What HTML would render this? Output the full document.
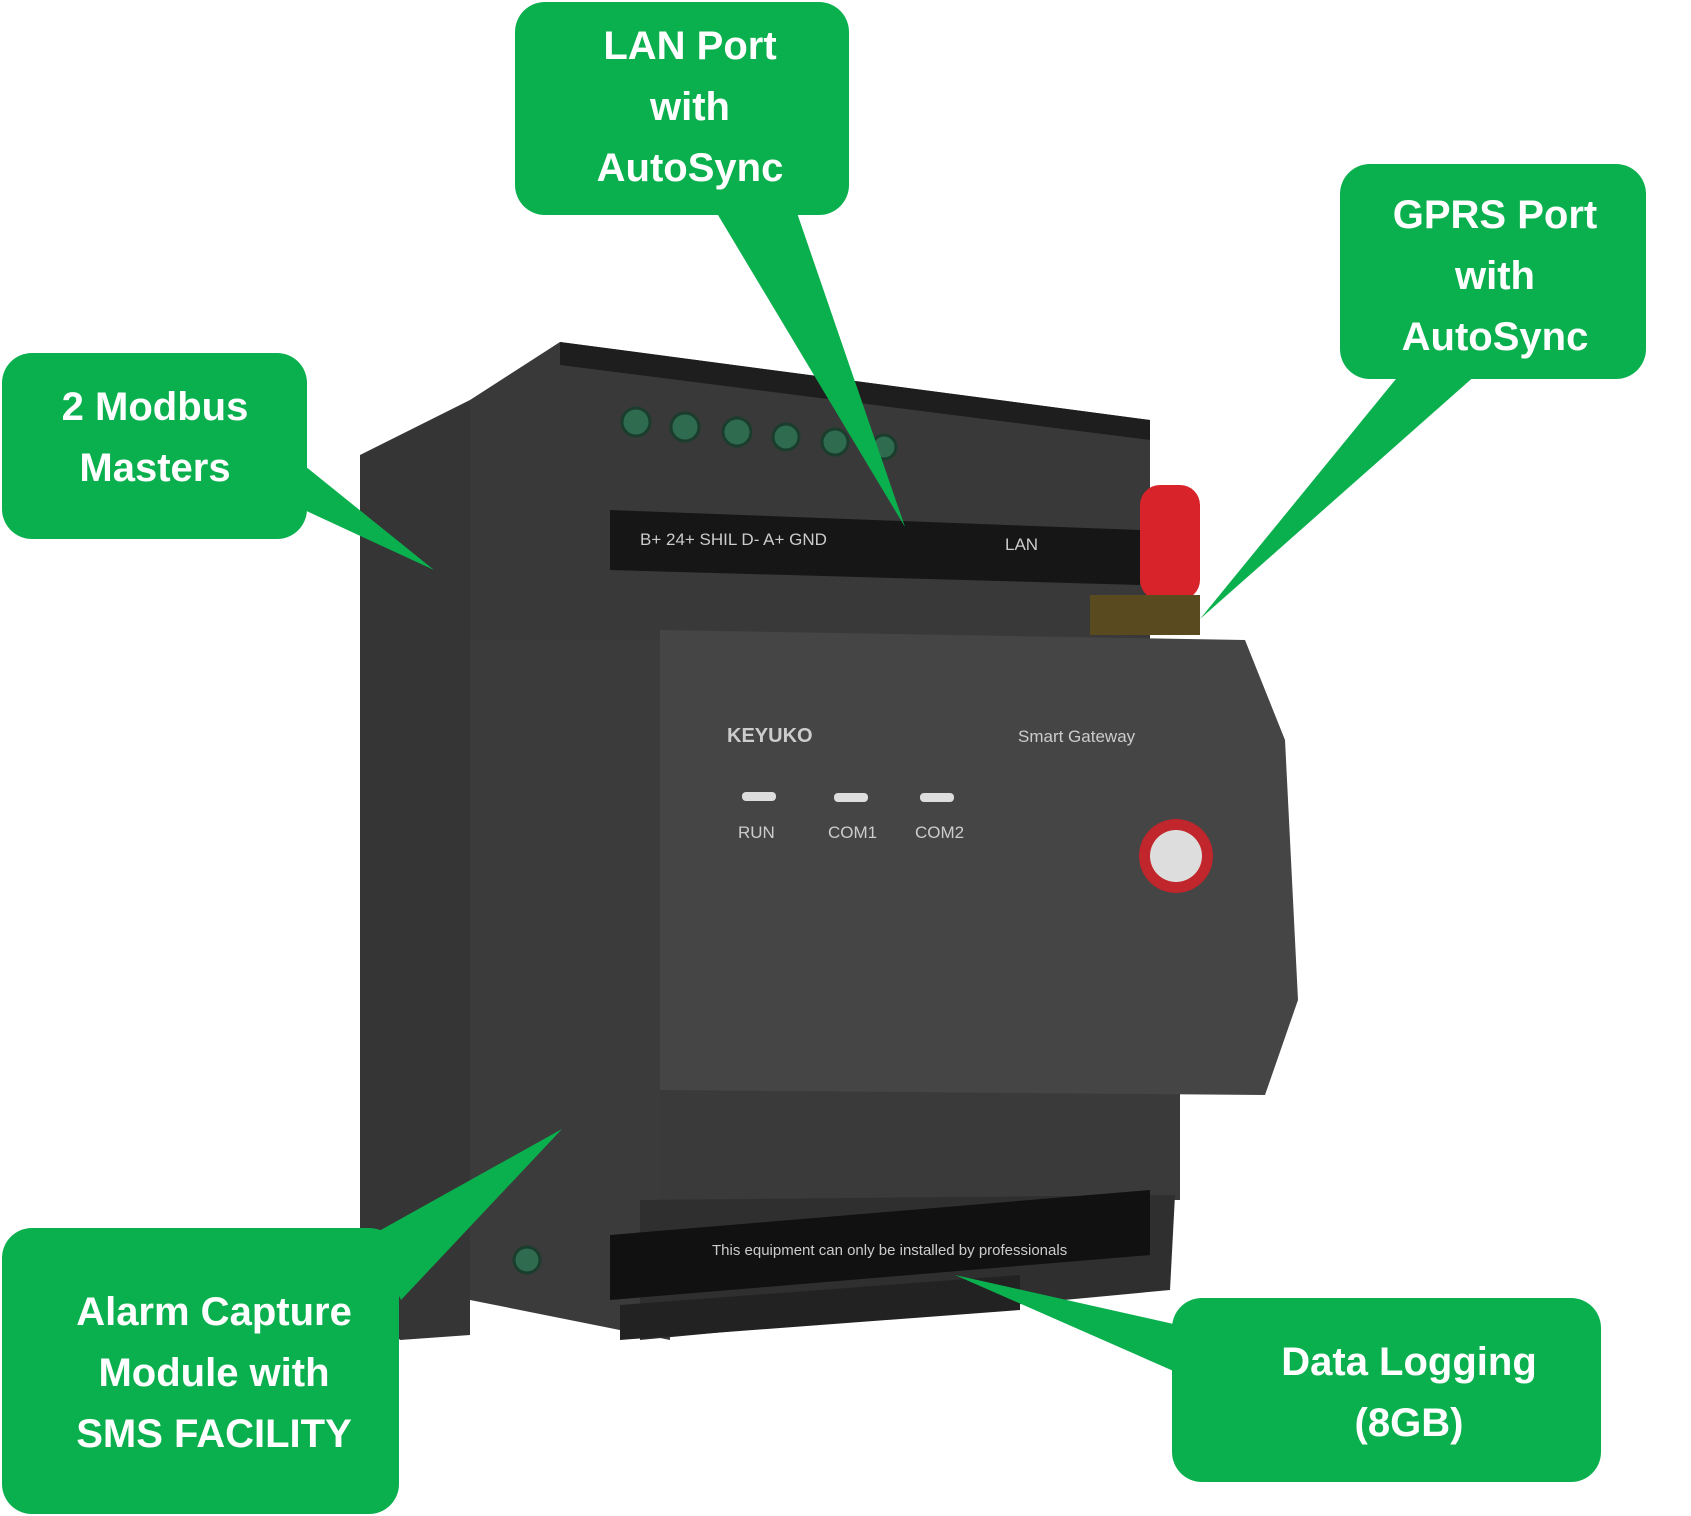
<!DOCTYPE html>
<html><head><meta charset="utf-8"><style>
html,body{margin:0;padding:0;background:#fff;}
body{width:1691px;height:1516px;position:relative;overflow:hidden;}
svg{position:absolute;left:0;top:0;}
</style></head><body>
<svg width="1691" height="1516" viewBox="0 0 1691 1516" xmlns="http://www.w3.org/2000/svg">
<!-- device -->
<polygon points="360,455 470,400 470,1335 400,1340 360,1290" fill="#353535"/>
<polygon points="470,400 560,342 1150,420 1150,640 470,640" fill="#393939"/>
<polygon points="560,342 1150,420 1150,440 560,365" fill="#1e1e1e"/>
<polygon points="470,640 670,640 670,1340 470,1300" fill="#3b3b3b"/>
<polygon points="660,1080 1180,1080 1180,1200 660,1200" fill="#3a3a3a"/>
<polygon points="660,630 1245,640 1285,740 1298,1000 1265,1095 660,1090" fill="#454545"/>
<polygon points="640,1200 1175,1195 1170,1290 640,1340" fill="#2f2f2f"/>
<polygon points="610,510 1140,530 1140,585 610,570" fill="#161616"/>
<polygon points="610,1235 1150,1190 1150,1255 610,1300" fill="#111"/>
<polygon points="620,1305 1020,1275 1020,1310 620,1340" fill="#222"/>
<g fill="#2f6b4e" stroke="#1b3d2d" stroke-width="3">
<circle cx="636" cy="422" r="14"/><circle cx="685" cy="427" r="14"/><circle cx="737" cy="432" r="14"/>
<circle cx="786" cy="437" r="13"/><circle cx="835" cy="442" r="13"/><circle cx="884" cy="447" r="12"/>
<circle cx="527" cy="1260" r="13"/>
</g>
<rect x="1140" y="485" width="60" height="115" rx="20" fill="#d8232a"/>
<rect x="1090" y="595" width="110" height="40" fill="#5a4a20"/>
<g fill="#ccc" font-family="Liberation Sans,sans-serif" font-size="20">
<text x="727" y="742" font-weight="bold">KEYUKO</text>
<text x="1018" y="742" font-size="17">Smart Gateway</text>
<text x="738" y="838" font-size="17">RUN</text>
<text x="828" y="838" font-size="17">COM1</text>
<text x="915" y="838" font-size="17">COM2</text>
<text x="640" y="545" font-size="17">B+ 24+ SHIL D- A+ GND</text>
<text x="1005" y="550" font-size="17">LAN</text>
<text x="712" y="1255" font-size="15">This equipment can only be installed by professionals</text>
</g>
<g fill="#ddd"><rect x="742" y="792" width="34" height="9" rx="4"/><rect x="834" y="793" width="34" height="9" rx="4"/><rect x="920" y="793" width="34" height="9" rx="4"/></g>
<circle cx="1176" cy="856" r="37" fill="#c0262c"/>
<circle cx="1176" cy="856" r="26" fill="#ddd"/>
<!-- callouts -->
<g fill="#0bb04e">
<rect x="515" y="2" width="334" height="213" rx="30"/>
<polygon points="715,210 796,210 905,527"/>
<rect x="1340" y="164" width="306" height="215" rx="30"/>
<polygon points="1400,374 1477,374 1200,619"/>
<rect x="2" y="353" width="305" height="186" rx="30"/>
<polygon points="300,462 300,508 434,570"/>
<rect x="2" y="1228" width="397" height="286" rx="30"/>
<polygon points="370,1236 401,1300 562,1129"/>
<rect x="1172" y="1298" width="429" height="184" rx="30"/>
<polygon points="1178,1325 1178,1373 955,1275"/>
</g>
<g fill="#fff" font-family="Liberation Sans,sans-serif" font-weight="bold" font-size="40" text-anchor="middle">
<text x="690" y="59">LAN Port</text><text x="690" y="120">with</text><text x="690" y="181">AutoSync</text>
<text x="1495" y="228">GPRS Port</text><text x="1495" y="289">with</text><text x="1495" y="350">AutoSync</text>
<text x="155" y="420">2  Modbus</text><text x="155" y="481">Masters</text>
<text x="214" y="1325">Alarm Capture</text><text x="214" y="1386">Module with</text><text x="214" y="1447">SMS FACILITY</text>
<text x="1409" y="1375">Data Logging</text><text x="1409" y="1436">(8GB)</text>
</g>
</svg>
</body></html>
